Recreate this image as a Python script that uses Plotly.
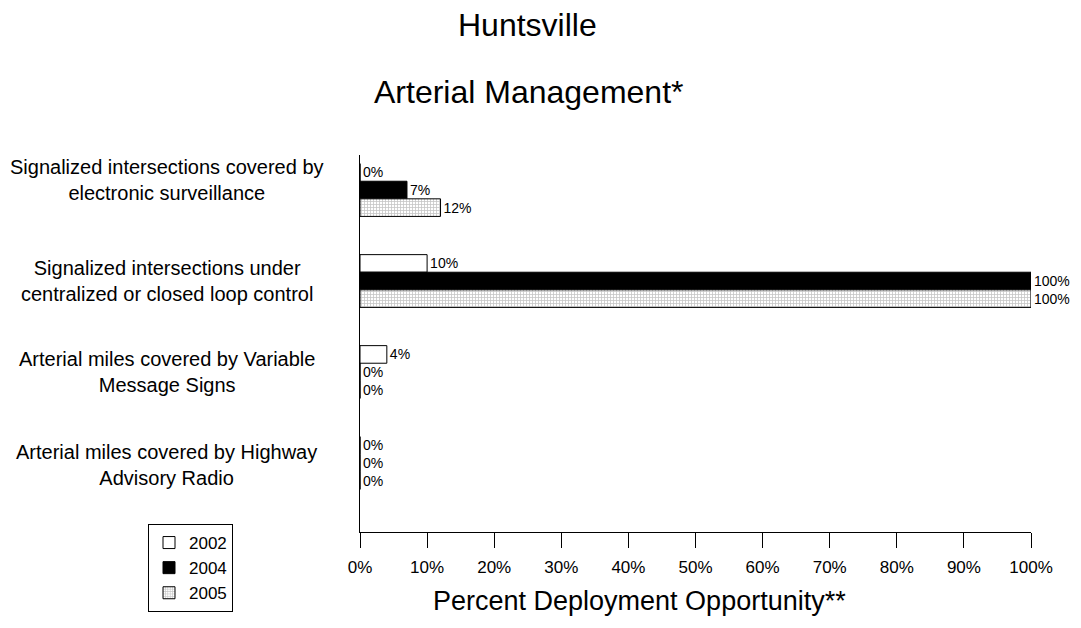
import plotly.graph_objects as go

categories = [
    "Signalized intersections covered by<br>electronic surveillance",
    "Signalized intersections under<br>centralized or closed loop control",
    "Arterial miles covered by Variable<br>Message Signs",
    "Arterial miles covered by Highway<br>Advisory Radio",
]
cat_keys = ["c1", "c2", "c3", "c4"]
years = ["2002", "2004", "2005"]
v2002 = [0, 10, 4, 0]
v2004 = [7, 100, 0, 0]
v2005 = [12, 100, 0, 0]
x_ticks = [0, 10, 20, 30, 40, 50, 60, 70, 80, 90, 100]
x_tick_text = [f"{t}%" for t in x_ticks]

FONT = "Liberation Sans, Arial, sans-serif"
OFF = 8  # default page body margin

fig = go.Figure()
series = [v2002, v2004, v2005]
styles = [
    dict(color="white"),
    dict(color="black"),
    dict(color="white", pattern=dict(shape="+", fgcolor="#8a8a8a", bgcolor="white", size=3, solidity=0.45)),
]
for name, vals, st in zip(years, series, styles):
    fig.add_trace(go.Bar(
        y=cat_keys, x=vals, name=name, orientation="h",
        marker=dict(line=dict(color="black", width=1), **st),
        text=[f"{v}%" for v in vals], textposition="outside",
        textfont=dict(size=14, color="black", family=FONT),
        cliponaxis=False, constraintext="none",
    ))

W, H = 1081 - OFF, 628 - OFF
# plot area in screen pixels
SL, SR, ST, SB = 360, 1031, 155, 532
L, R, T, B = SL - OFF, W - (SR - OFF), ST - OFF, H - (SB - OFF)
pw, ph = SR - SL, SB - ST

def px_x(px):
    return (px - SL) / pw

def px_y(py):
    return (SB - py) / ph

annotations = []
label_shift = [10, 0, 0, -2]
for key, lab, sh in zip(cat_keys, categories, label_shift):
    annotations.append(dict(
        x=px_x(167), xref="paper", y=key, yref="y", text=lab, showarrow=False,
        xanchor="center", yanchor="middle", align="center", yshift=sh,
        font=dict(size=20, color="black", family=FONT),
    ))
annotations.append(dict(x=px_x(527), y=px_y(25), xref="paper", yref="paper", text="Huntsville",
                        showarrow=False, xanchor="center", yanchor="middle",
                        font=dict(size=32, color="black", family=FONT)))
annotations.append(dict(x=px_x(528), y=px_y(92), xref="paper", yref="paper", text="Arterial Management*",
                        showarrow=False, xanchor="center", yanchor="middle",
                        font=dict(size=32, color="black", family=FONT)))
annotations.append(dict(x=px_x(639), y=px_y(601), xref="paper", yref="paper", text="Percent Deployment Opportunity**",
                        showarrow=False, xanchor="center", yanchor="middle",
                        font=dict(size=27, color="black", family=FONT)))

fig.update_layout(
    width=W, height=H,
    margin=dict(l=L, r=R, t=T, b=B),
    paper_bgcolor="white", plot_bgcolor="white",
    barmode="group", bargap=0.42, bargroupgap=0,
    showlegend=True,
    legend=dict(
        x=px_x(148), y=px_y(524), xanchor="left", yanchor="top",
        bordercolor="black", borderwidth=1, bgcolor="white",
        traceorder="normal", font=dict(size=17, color="black", family=FONT),
        itemwidth=30, tracegroupgap=0,
    ),
    xaxis=dict(
        range=[0, 100], tickvals=x_ticks, ticktext=x_tick_text,
        showgrid=False, zeroline=False, showline=True, linecolor="black", linewidth=1,
        ticks="outside", ticklen=15, tickcolor="black", ticklabelstandoff=5,
        tickfont=dict(size=17, color="black", family=FONT),
    ),
    yaxis=dict(
        categoryorder="array", categoryarray=cat_keys,
        range=[3.758, -0.385],
        showticklabels=False, showgrid=False, zeroline=False,
        showline=True, linecolor="black", linewidth=1, ticks="",
    ),
    annotations=annotations,
    font=dict(family=FONT, color="black"),
)

fig.write_html("out.html")
